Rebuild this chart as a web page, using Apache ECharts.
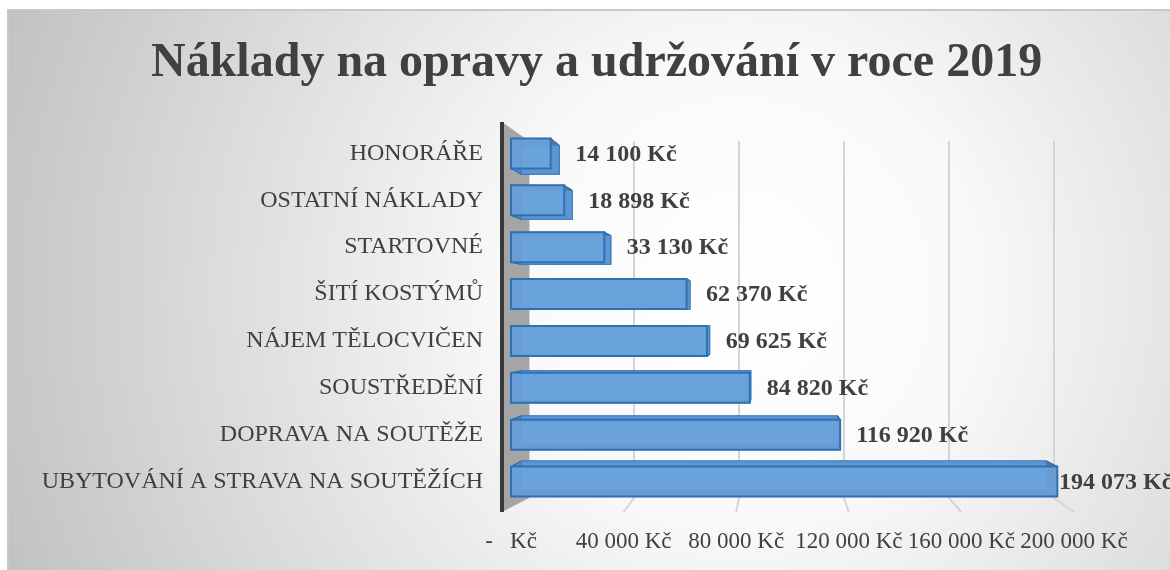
<!DOCTYPE html>
<html>
<head>
<meta charset="utf-8">
<script src="https://cdn.jsdelivr.net/npm/echarts@6/dist/echarts.min.js"></script>
<style>
  html, body { margin: 0; padding: 0; background: #fff; }
  #main { width: 1170px; height: 570px; }
</style>
</head>
<body>
<div id="main"></div>
<script>
// data
const categories = ['HONORÁŘE', 'OSTATNÍ NÁKLADY', 'STARTOVNÉ', 'ŠITÍ KOSTÝMŮ',
  'NÁJEM TĚLOCVIČEN', 'SOUSTŘEDĚNÍ', 'DOPRAVA NA SOUTĚŽE', 'UBYTOVÁNÍ A STRAVA NA SOUTĚŽÍCH'];
const values = [14100, 18898, 33130, 62370, 69625, 84820, 116920, 194073];
const axisMax = 200000;
const axisStep = 40000;

// perspective of the 3d excel look
const VP = [778, 320];
const BAR_S = 0.962;
const FONT = '"Liberation Serif", "Times New Roman", serif';
const TXT = '#404040';

function kc(v) {
  if (v === 0) return '-   Kč';
  return String(v).replace(/\B(?=(\d{3})+(?!\d))/g, ' ') + ' Kč';
}

const chart = echarts.init(document.getElementById('main'));

function back(x, y) {
  return [VP[0] + (x - VP[0]) * BAR_S, VP[1] + (y - VP[1]) * BAR_S];
}

function renderBar(params, api) {
  const val = api.value(0);
  const cat = api.value(1);
  const p0 = api.coord([0, cat]);
  const p1 = api.coord([val, cat]);
  const h = api.size([0, 1])[1] * 0.64;
  const x0 = p0[0], x1 = p1[0], y0 = p0[1] - h / 2, y1 = p0[1] + h / 2;
  const f = [[x0, y0], [x1, y0], [x1, y1], [x0, y1]];
  const b = f.map(p => back(p[0], p[1]));
  const side = (a, c, col) => ({
    type: 'polygon',
    shape: { points: [f[a], f[c], b[c], b[a]] },
    style: { fill: col, stroke: '#2f6aa6', lineWidth: 1 }
  });
  const right = Math.max(x1, b[1][0]);
  const lx = Math.min(right + 16, 1059);
  return {
    type: 'group',
    children: [
      side(0, 1, '#4a86c6'),  // top
      side(3, 2, '#3d6c9c'),  // bottom
      side(1, 2, '#56769a'),  // right
      side(0, 3, '#4a86c6'),  // left
      {
        type: 'rect',
        shape: { x: b[0][0], y: b[0][1], width: b[1][0] - b[0][0], height: b[3][1] - b[0][1] },
        style: { fill: '#5b96d3', stroke: '#3f7fc0', lineWidth: 1 }
      },
      {
        type: 'rect',
        shape: { x: x0, y: y0, width: x1 - x0, height: y1 - y0 },
        style: { fill: 'rgba(110,164,221,0.84)', stroke: '#2e72b4', lineWidth: 2 }
      },
      {
        type: 'text',
        style: {
          text: kc(val), x: lx, y: p0[1] + 1, verticalAlign: 'middle', align: 'left',
          font: 'bold 24px ' + FONT, fill: TXT
        }
      }
    ]
  };
}

chart.setOption({
  animation: false,
  title: {
    text: 'Náklady na opravy a udržování v roce 2019',
    left: 146,
    top: 35,
    textStyle: { fontFamily: FONT, fontWeight: 'bold', fontSize: 48, color: TXT }
  },
  grid: [
    { left: 511, right: 96, top: 130, bottom: 65 },
    { left: 529, right: 116, top: 141, bottom: 72 }
  ],
  xAxis: [
    {
      type: 'value', gridIndex: 0, min: 0, max: axisMax, interval: axisStep,
      axisLine: { show: false }, axisTick: { show: false }, splitLine: { show: false },
      axisLabel: { formatter: kc, margin: 25, fontFamily: FONT, fontSize: 23, color: TXT }
    },
    {
      type: 'value', gridIndex: 1, min: 0, max: axisMax, interval: axisStep,
      axisLine: { show: false }, axisTick: { show: false }, axisLabel: { show: false },
      splitLine: { show: true, lineStyle: { color: '#d4d4d4', width: 2 } }
    }
  ],
  yAxis: [
    {
      type: 'category', gridIndex: 0, data: categories, inverse: true,
      axisLine: { show: false }, axisTick: { show: false },
      axisLabel: { margin: 28, fontFamily: FONT, fontSize: 24, color: TXT }
    },
    { type: 'value', gridIndex: 1, min: 0, max: 1, show: false }
  ],
  series: [{
    type: 'custom',
    xAxisIndex: 0,
    yAxisIndex: 0,
    renderItem: renderBar,
    encode: { x: 0, y: 1 },
    data: values.map((v, i) => [v, i]),
    z: 5
  }]
});

// wall, floor and background
const wallFront = 502, wallTop = 122, wallBottom = 512;
const backTop = 141, backBottom = 498;
const backZero = chart.convertToPixel({ xAxisIndex: 1 }, 0);
const graphics = [
  {
    type: 'rect', z: -10,
    shape: { x: 8, y: 10, width: 1170, height: 570 },
    style: {
      fill: {
        type: 'radial', x: 740, y: 290, r: 780, global: true,
        colorStops: [
          { offset: 0, color: '#ffffff' },
          { offset: 0.3, color: '#f9f9f9' },
          { offset: 1, color: '#c2c2c2' }
        ]
      },
      stroke: '#c8c8c8', lineWidth: 2
    }
  },
  {
    type: 'polygon', z: 1,
    shape: { points: [[wallFront, wallTop], [backZero, backTop], [backZero, backBottom], [wallFront, wallBottom]] },
    style: { fill: '#a5a5a5' }
  },
  {
    type: 'line', z: 1,
    shape: { x1: wallFront, y1: wallTop, x2: wallFront, y2: wallBottom },
    style: { stroke: '#3a3a3a', lineWidth: 4 }
  }
];
for (let v = axisStep; v <= axisMax; v += axisStep) {
  const bx = chart.convertToPixel({ xAxisIndex: 1 }, v);
  const fx = chart.convertToPixel({ xAxisIndex: 0 }, v);
  graphics.push({
    type: 'line', z: 1,
    shape: { x1: bx, y1: backBottom, x2: fx, y2: wallBottom },
    style: { stroke: '#d4d4d4', lineWidth: 2 }
  });
}
chart.setOption({ graphic: graphics });
</script>
</body>
</html>
